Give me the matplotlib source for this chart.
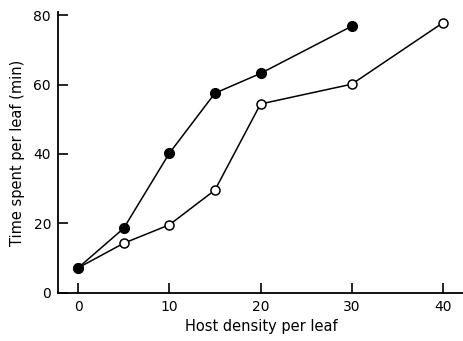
import matplotlib
matplotlib.use("Agg")
import matplotlib.pyplot as plt

# host density per leaf
density_filled = [0, 5, 10, 15, 20, 30]
time_filled = [7.2, 18.6, 40.2, 57.5, 63.2, 76.8]

density_open = [0, 5, 10, 15, 20, 30, 40]
time_open = [7.2, 14.3, 19.6, 29.6, 54.4, 60.1, 77.8]

xticks = [0, 10, 20, 30, 40]
yticks = [0, 20, 40, 60, 80]

fig = plt.figure(figsize=(4.64, 3.41), dpi=100)
ax = fig.add_axes([0.125, 0.141, 0.875, 0.824])

ax.plot(density_open, time_open, color='black', lw=1.1, marker='o',
        markersize=6.5, markerfacecolor='white', markeredgecolor='black',
        markeredgewidth=1.1, zorder=2)
ax.plot(density_filled, time_filled, color='black', lw=1.1, marker='o',
        markersize=7, markerfacecolor='black', markeredgecolor='black', zorder=3)

ax.set_xlim(-2.2, 42.3)
ax.set_ylim(0, 80.9)
ax.set_xticks(xticks)
ax.set_yticks(yticks)
ax.spines['top'].set_visible(False)
ax.spines['right'].set_visible(False)
ax.spines['left'].set_linewidth(1.3)
ax.spines['bottom'].set_linewidth(1.3)
ax.tick_params(direction='in', length=7, width=1.2, labelsize=10, pad=5)
ax.set_xlabel('Host density per leaf', size=10.5, labelpad=4)
ax.set_ylabel('Time spent per leaf (min)', size=10.5, labelpad=6)

fig.savefig('out.png', dpi=100)
